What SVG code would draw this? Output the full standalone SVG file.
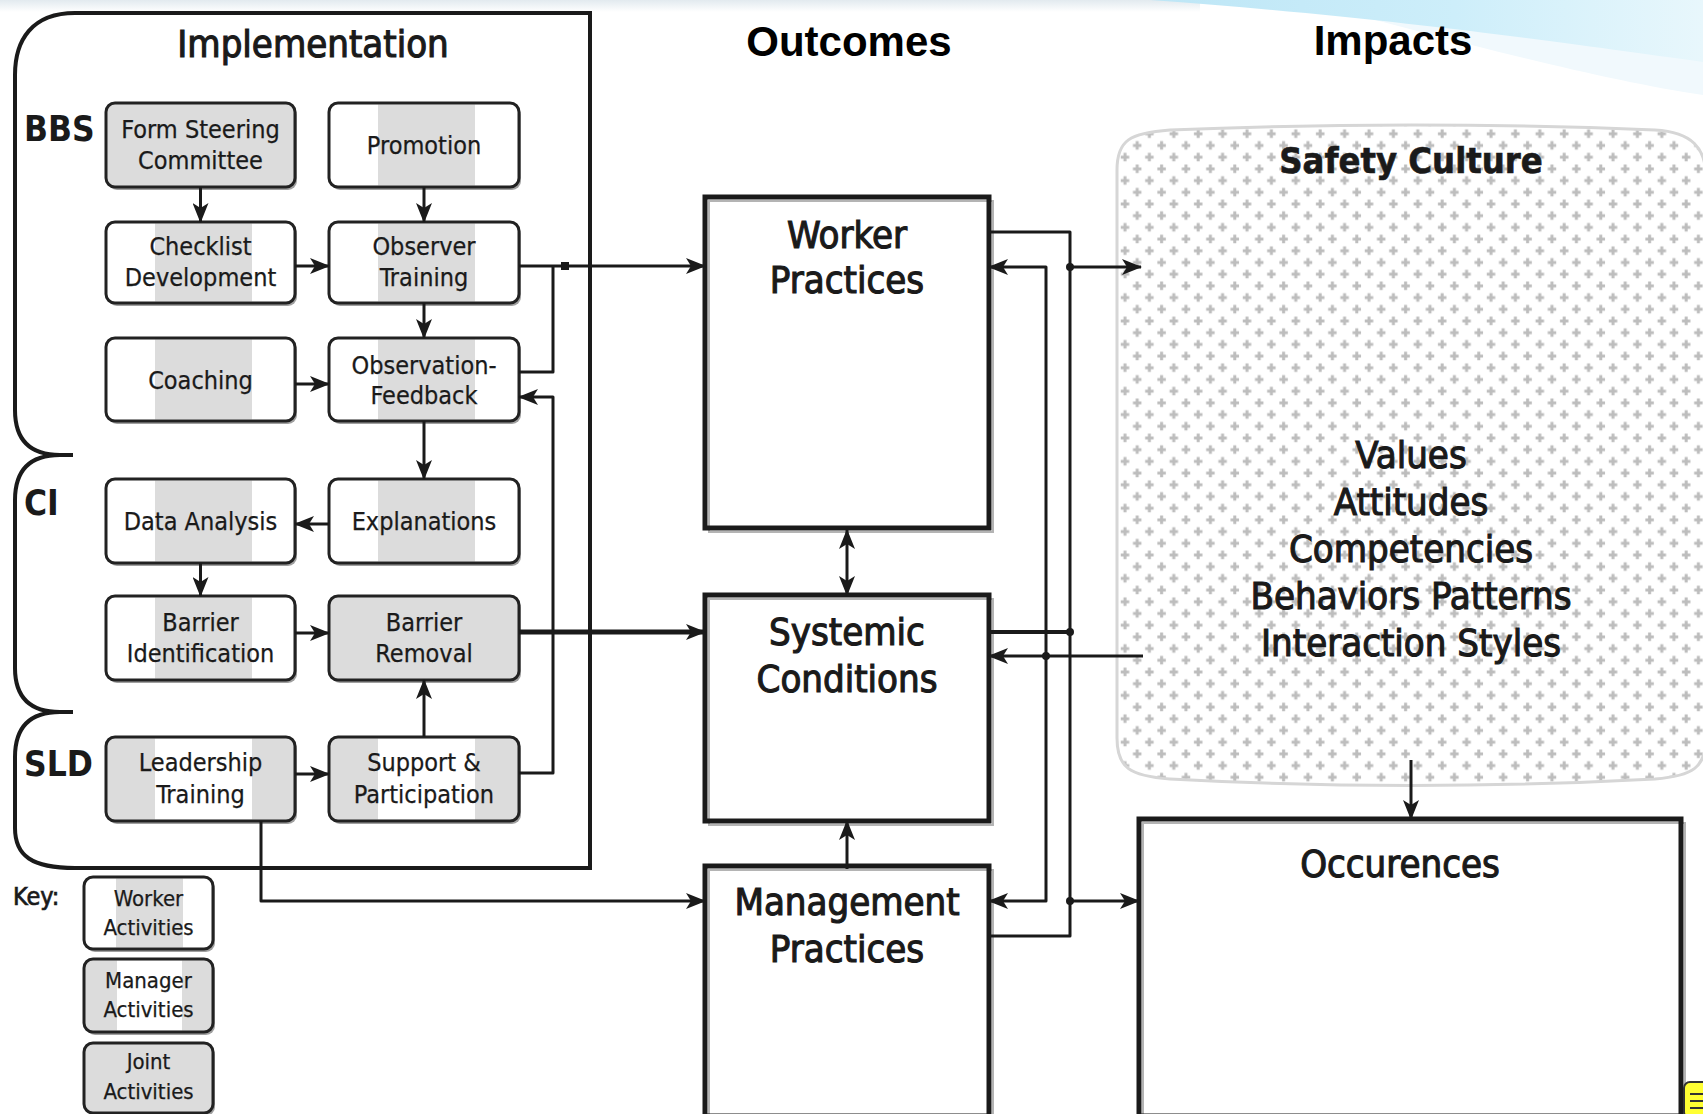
<svg xmlns="http://www.w3.org/2000/svg" width="1703" height="1114" viewBox="0 0 1703 1114">
<defs>
<style>
text{font-family:"DejaVu Sans Condensed","DejaVu Sans",sans-serif;fill:#1a1a1a;text-anchor:middle}
.hd{font-family:"Liberation Sans",Arial,sans-serif;font-weight:bold;font-size:42px;fill:#000}
.bl{font-size:25px;stroke:#1a1a1a;stroke-width:0.25}
.kl{font-size:22px;stroke:#1a1a1a;stroke-width:0.25}
.big{font-size:38px;stroke:#1a1a1a;stroke-width:1.1}
.sec{font-size:35px;font-weight:bold;text-anchor:start}
.sh{fill:#a0a0a0}
.fw{fill:#fff}
.fg{fill:#dcdcdc}
.fr{fill:none;stroke:#222;stroke-width:3}
.ow{fill:#fff}
.oi{fill:none;stroke:#b4b4b4;stroke-width:2}
.ob{fill:none;stroke:#1a1a1a;stroke-width:5}
.c{fill:none;stroke:#1a1a1a;stroke-width:3;stroke-linejoin:round}
.a{marker-end:url(#ah)}
.dot{fill:#1a1a1a}
.pl{fill:#bdbdbd}
</style>
<marker id="ah" viewBox="0 0 20 16" refX="19" refY="8" markerWidth="20" markerHeight="16" orient="auto-start-reverse" markerUnits="userSpaceOnUse"><path d="M0,0 L20,8 L0,16 L5,8 Z" fill="#1a1a1a"/></marker>
<pattern id="plus" patternUnits="userSpaceOnUse" x="1117" y="126" width="24.4" height="23.4">
<path class="pl" d="M6.5,3.5 h3 v2.75 h2.75 v3 h-2.75 v2.75 h-3 v-2.75 h-2.75 v-3 h2.75 z"/>
<path class="pl" d="M18.7,15.2 h3 v2.75 h2.75 v3 h-2.75 v2.75 h-3 v-2.75 h-2.75 v-3 h2.75 z"/>
<path class="pl" d="M-5.7,15.2 h3 v2.75 h2.75 v3 h-2.75 v2.75 h-3 v-2.75 h-2.75 v-3 h2.75 z"/>
<path class="pl" d="M18.7,-8.2 h3 v2.75 h2.75 v3 h-2.75 v2.75 h-3 v-2.75 h-2.75 v-3 h2.75 z"/>
<path class="pl" d="M-5.7,-8.2 h3 v2.75 h2.75 v3 h-2.75 v2.75 h-3 v-2.75 h-2.75 v-3 h2.75 z"/>
</pattern>
<linearGradient id="sw" x1="1150" y1="0" x2="1703" y2="0" gradientUnits="userSpaceOnUse"><stop offset="0" stop-color="#bde6f6"/><stop offset="0.55" stop-color="#cdeefa"/><stop offset="1" stop-color="#e8f7fc"/></linearGradient>
<linearGradient id="tp" x1="0" y1="0" x2="0" y2="1"><stop offset="0" stop-color="#e2eaef"/><stop offset="1" stop-color="#ffffff"/></linearGradient>
</defs>

<rect x="0" y="0" width="1703" height="1114" fill="#fff"/>
<rect x="0" y="0" width="1200" height="12" fill="url(#tp)"/>
<path d="M1300,0 L1703,0 L1703,95 C1600,80 1450,40 1300,0 Z" fill="#f1f9fd"/>
<path d="M1150,0 L1703,0 L1703,62 C1600,48 1400,18 1150,0 Z" fill="url(#sw)"/>

<text class="hd" x="849" y="56">Outcomes</text>
<text class="hd" x="1393" y="55">Impacts</text>

<g id="safety-culture">
<path d="M1117,170 C1117,140 1130,133 1170,130 Q1410,120 1655,130 C1692,132 1706,148 1706,178 L1706,738 C1706,768 1692,776 1655,779 Q1410,792 1170,779 C1130,776 1117,768 1117,738 Z" fill="#fff"/>
<path d="M1117,170 C1117,140 1130,133 1170,130 Q1410,120 1655,130 C1692,132 1706,148 1706,178 L1706,738 C1706,768 1692,776 1655,779 Q1410,792 1170,779 C1130,776 1117,768 1117,738 Z" fill="url(#plus)" stroke="#d6d6d6" stroke-width="3"/>
<text x="1411" y="173" style="font-size:36px;font-weight:bold;stroke:#1a1a1a;stroke-width:0.6">Safety Culture</text>
<text class="big" x="1411" y="468">Values</text>
<text class="big" x="1411" y="515">Attitudes</text>
<text class="big" x="1411" y="562">Competencies</text>
<text class="big" x="1411" y="609">Behaviors Patterns</text>
<text class="big" x="1411" y="656">Interaction Styles</text>
</g>

<g id="implementation">
<path d="M75,13 H590 V868 H75" fill="none" stroke="#1a1a1a" stroke-width="4"/>
<path d="M75,13 C32,13 15,40 15,75 L15,410 C15,440 30,455 60,455 L73,455 M60,455 C30,455 15,470 15,500 L15,668 C15,697 30,712 60,712 L73,712 M60,712 C30,712 15,727 15,757 L15,828 C15,856 32,868 75,868" fill="none" stroke="#1a1a1a" stroke-width="4"/>
<text x="313" y="57" style="font-size:38px;stroke:#1a1a1a;stroke-width:1.1">Implementation</text>
<text class="sec" x="24" y="141">BBS</text>
<text class="sec" x="24" y="515">CI</text>
<text class="sec" x="24" y="776">SLD</text>
</g>

<g id="form-steering-committee">
<rect class="sh" x="108" y="106" width="189" height="84" rx="9"/>
<rect class="fg" x="106" y="103" width="189" height="84" rx="9"/>
<rect class="fr" x="106" y="103" width="189" height="84" rx="9"/>
<text class="bl" x="200.5" y="138">Form Steering</text>
<text class="bl" x="200.5" y="169">Committee</text>
</g>
<g id="promotion">
<rect class="sh" x="331" y="106" width="190" height="84" rx="9"/>
<rect class="fw" x="329" y="103" width="190" height="84" rx="9"/>
<rect class="fg" x="378" y="104.5" width="97" height="81"/>
<rect class="fr" x="329" y="103" width="190" height="84" rx="9"/>
<text class="bl" x="424" y="154">Promotion</text>
</g>
<g id="checklist-development">
<rect class="sh" x="108" y="225" width="189" height="81" rx="9"/>
<rect class="fw" x="106" y="222" width="189" height="81" rx="9"/>
<rect class="fg" x="155" y="223.5" width="97" height="78"/>
<rect class="fr" x="106" y="222" width="189" height="81" rx="9"/>
<text class="bl" x="200.5" y="255">Checklist</text>
<text class="bl" x="200.5" y="286">Development</text>
</g>
<g id="observer-training">
<rect class="sh" x="331" y="225" width="190" height="81" rx="9"/>
<rect class="fw" x="329" y="222" width="190" height="81" rx="9"/>
<rect class="fg" x="378" y="223.5" width="97" height="78"/>
<rect class="fr" x="329" y="222" width="190" height="81" rx="9"/>
<text class="bl" x="424" y="255">Observer</text>
<text class="bl" x="424" y="286">Training</text>
</g>
<g id="coaching">
<rect class="sh" x="108" y="341" width="189" height="83" rx="9"/>
<rect class="fw" x="106" y="338" width="189" height="83" rx="9"/>
<rect class="fg" x="155" y="339.5" width="97" height="80"/>
<rect class="fr" x="106" y="338" width="189" height="83" rx="9"/>
<text class="bl" x="200.5" y="389">Coaching</text>
</g>
<g id="observation-feedback">
<rect class="sh" x="331" y="341" width="190" height="83" rx="9"/>
<rect class="fw" x="329" y="338" width="190" height="83" rx="9"/>
<rect class="fg" x="378" y="339.5" width="97" height="80"/>
<rect class="fr" x="329" y="338" width="190" height="83" rx="9"/>
<text class="bl" x="424" y="374">Observation-</text>
<text class="bl" x="424" y="404">Feedback</text>
</g>
<g id="data-analysis">
<rect class="sh" x="108" y="482" width="189" height="84" rx="9"/>
<rect class="fw" x="106" y="479" width="189" height="84" rx="9"/>
<rect class="fg" x="155" y="480.5" width="97" height="81"/>
<rect class="fr" x="106" y="479" width="189" height="84" rx="9"/>
<text class="bl" x="200.5" y="530">Data Analysis</text>
</g>
<g id="explanations">
<rect class="sh" x="331" y="482" width="190" height="84" rx="9"/>
<rect class="fw" x="329" y="479" width="190" height="84" rx="9"/>
<rect class="fg" x="378" y="480.5" width="97" height="81"/>
<rect class="fr" x="329" y="479" width="190" height="84" rx="9"/>
<text class="bl" x="424" y="530">Explanations</text>
</g>
<g id="barrier-identification">
<rect class="sh" x="108" y="599" width="189" height="84" rx="9"/>
<rect class="fw" x="106" y="596" width="189" height="84" rx="9"/>
<rect class="fg" x="155" y="597.5" width="97" height="81"/>
<rect class="fr" x="106" y="596" width="189" height="84" rx="9"/>
<text class="bl" x="200.5" y="631">Barrier</text>
<text class="bl" x="200.5" y="662">Identification</text>
</g>
<g id="barrier-removal">
<rect class="sh" x="331" y="599" width="190" height="84" rx="9"/>
<rect class="fg" x="329" y="596" width="190" height="84" rx="9"/>
<rect class="fr" x="329" y="596" width="190" height="84" rx="9"/>
<text class="bl" x="424" y="631">Barrier</text>
<text class="bl" x="424" y="662">Removal</text>
</g>
<g id="leadership-training">
<rect class="sh" x="108" y="740" width="189" height="84" rx="9"/>
<rect class="fg" x="106" y="737" width="189" height="84" rx="9"/>
<rect class="fw" x="155" y="738.5" width="97" height="81"/>
<rect class="fr" x="106" y="737" width="189" height="84" rx="9"/>
<text class="bl" x="200.5" y="771">Leadership</text>
<text class="bl" x="200.5" y="803">Training</text>
</g>
<g id="support-participation">
<rect class="sh" x="331" y="740" width="190" height="84" rx="9"/>
<rect class="fg" x="329" y="737" width="190" height="84" rx="9"/>
<rect class="fw" x="378" y="738.5" width="97" height="81"/>
<rect class="fr" x="329" y="737" width="190" height="84" rx="9"/>
<text class="bl" x="424" y="771">Support &amp;</text>
<text class="bl" x="424" y="803">Participation</text>
</g>

<g id="key">
<text x="13" y="905" style="font-size:25px;text-anchor:start;stroke:#1a1a1a;stroke-width:0.7">Key:</text>
</g>
<g id="key-worker">
<rect class="sh" x="86" y="880" width="129" height="72" rx="9"/>
<rect class="fw" x="84" y="877" width="129" height="72" rx="9"/>
<rect class="fg" x="116" y="878.5" width="67" height="69"/>
<rect class="fr" x="84" y="877" width="129" height="72" rx="9"/>
<text class="kl" x="148.5" y="906">Worker</text>
<text class="kl" x="148.5" y="935">Activities</text>
</g>
<g id="key-manager">
<rect class="sh" x="86" y="962" width="129" height="73" rx="9"/>
<rect class="fg" x="84" y="959" width="129" height="73" rx="9"/>
<rect class="fw" x="117" y="960.5" width="65" height="70"/>
<rect class="fr" x="84" y="959" width="129" height="73" rx="9"/>
<text class="kl" x="148.5" y="988">Manager</text>
<text class="kl" x="148.5" y="1017">Activities</text>
</g>
<g id="key-joint">
<rect class="sh" x="86" y="1046" width="129" height="70" rx="9"/>
<rect class="fg" x="84" y="1043" width="129" height="70" rx="9"/>
<rect class="fr" x="84" y="1043" width="129" height="70" rx="9"/>
<text class="kl" x="148.5" y="1069">Joint</text>
<text class="kl" x="148.5" y="1099">Activities</text>
</g>

<g id="worker-practices">
<rect class="ow" x="705" y="197" width="284" height="331"/>
<rect class="oi" x="709" y="201" width="284" height="331"/>
<rect class="ob" x="705" y="197" width="284" height="331"/>
<text class="big" x="847" y="248">Worker</text>
<text class="big" x="847" y="293">Practices</text>
</g>
<g id="systemic-conditions">
<rect class="ow" x="705" y="595" width="284" height="226"/>
<rect class="oi" x="709" y="599" width="284" height="226"/>
<rect class="ob" x="705" y="595" width="284" height="226"/>
<text class="big" x="847" y="645">Systemic</text>
<text class="big" x="847" y="692">Conditions</text>
</g>
<g id="management-practices">
<rect class="ow" x="705" y="866" width="284" height="250"/>
<rect class="oi" x="709" y="870" width="284" height="250"/>
<rect class="ob" x="705" y="866" width="284" height="250"/>
<text class="big" x="847" y="915">Management</text>
<text class="big" x="847" y="962">Practices</text>
</g>
<g id="occurences">
<rect class="ow" x="1139" y="819" width="542" height="297"/>
<rect class="oi" x="1143" y="823" width="542" height="297"/>
<rect class="ob" x="1139" y="819" width="542" height="297"/>
<text class="big" x="1400" y="877">Occurences</text>
</g>

<g id="connectors">
<path class="c a" d="M200.5,187 V222"/>
<path class="c a" d="M424,187 V222"/>
<path class="c a" d="M295,266 H329"/>
<path class="c a" d="M424,303 V338"/>
<path class="c a" d="M295,384 H329"/>
<path class="c a" d="M424,421 V479"/>
<path class="c a" d="M329,524 H295"/>
<path class="c a" d="M200.5,563 V596"/>
<path class="c a" d="M295,633 H329"/>
<path class="c a" d="M424,737 V680"/>
<path class="c a" d="M295,774 H329"/>
<path class="c a" d="M519,266 H705"/>
<path class="c" d="M519,372 H553 V266"/>
<rect class="dot" x="561" y="262" width="8" height="8"/>
<path class="c a" d="M519,773 H553 V397 H519"/>
<path class="c a" d="M519,632 H705" style="stroke-width:5"/>
<path class="c a" d="M261,821 V901 H705"/>
<path class="c a" d="M847,530 V595" style="marker-start:url(#ah)"/>
<path class="c a" d="M847,869 V821"/>
<path class="c" d="M989,232 H1070 V936 H989"/>
<path class="c" d="M989,632 H1070" style="stroke-width:4"/>
<path class="c a" d="M1070,267 H1141"/>
<path class="c a" d="M1070,901 H1139"/>
<path class="c a" d="M1143,656 H989"/>
<path class="c a" d="M1046,656 V267 H989"/>
<path class="c a" d="M1046,656 V901 H989"/>
<circle class="dot" cx="1070" cy="267" r="4"/>
<circle class="dot" cx="1070" cy="632" r="4"/>
<circle class="dot" cx="1070" cy="901" r="4"/>
<circle class="dot" cx="1046" cy="656" r="4"/>
<path class="c a" d="M1411,760 V819"/>
</g>

<g id="note-icon">
<rect x="1684" y="1082" width="26" height="36" rx="6" fill="#ffff33" stroke="#333" stroke-width="2"/>
<path d="M1690,1094 H1703 M1690,1101 H1703 M1690,1108 H1703" stroke="#333" stroke-width="2"/>
</g>
</svg>
